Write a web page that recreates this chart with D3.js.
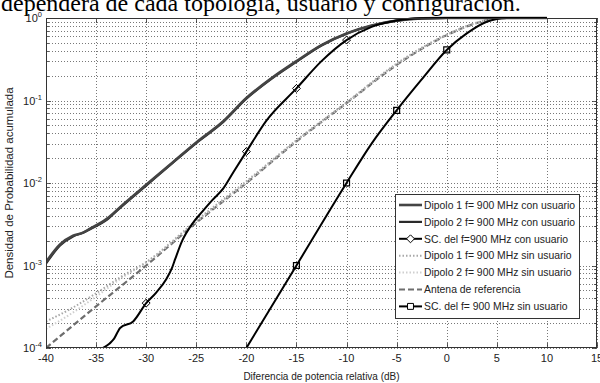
<!DOCTYPE html>
<html>
<head>
<meta charset="utf-8">
<script src="https://cdn.jsdelivr.net/npm/d3@7"></script>
<style>
  body { margin: 0; background: #fff; }
  svg { display: block; font-family: "Liberation Sans", Arial, sans-serif; }
</style>
</head>
<body>
<script>
// series data: [dB, probability]
var dipolo1Con = [[-40, 1.1e-3], [-38.6, 1.8e-3], [-37.3, 2.3e-3], [-36.3, 2.5e-3], [-35.6, 2.8e-3],
  [-33.9, 3.7e-3], [-32.6, 5.1e-3], [-30, 9.5e-3], [-27.3, 0.018], [-25, 0.031], [-22.3, 0.056],
  [-20, 0.107], [-17.5, 0.186], [-15, 0.30], [-12.5, 0.47], [-10, 0.65], [-7.5, 0.81], [-5, 0.93],
  [-2.5, 0.99], [0, 1], [10, 1]];
var dipolo2Con = [[-40, 1.05e-3], [-38.6, 1.75e-3], [-37.3, 2.25e-3], [-36.3, 2.5e-3], [-35.6, 2.75e-3],
  [-33.9, 3.6e-3], [-32.6, 5.0e-3], [-30, 9.3e-3], [-27.3, 0.0178], [-25, 0.0305], [-22.3, 0.055],
  [-20, 0.105], [-17.5, 0.183], [-15, 0.295], [-12.5, 0.465], [-10, 0.645], [-7.5, 0.805], [-5, 0.93],
  [-2.5, 0.99], [0, 1], [10, 1]];
var scCon = [[-34.3, 1.0e-4], [-33.2, 1.3e-4], [-32.6, 1.75e-4], [-31.3, 2.1e-4], [-30, 3.5e-4],
  [-29, 4.7e-4], [-28, 6.8e-4], [-27.4, 9.5e-4], [-27.1, 1.2e-3], [-26.4, 2.0e-3], [-25.4, 3.2e-3],
  [-24.4, 4.5e-3], [-23.4, 6.2e-3], [-22.3, 8.6e-3], [-21.3, 0.0135], [-20, 0.024], [-18, 0.057],
  [-15, 0.14], [-12.5, 0.30], [-10, 0.54], [-7.5, 0.78], [-5, 0.93], [-2.5, 0.99], [0, 1], [10, 1]];
var dipolo1Sin = [[-40, 2.1e-4], [-37.5, 3.0e-4], [-35, 4.6e-4], [-32.5, 7.3e-4], [-30, 1.1e-3],
  [-25, 3.5e-3], [-20, 0.0105], [-15, 0.033], [-10, 0.095], [-5, 0.28], [0, 0.63], [3, 0.88],
  [5, 0.99], [6, 1], [10, 1]];
var dipolo2Sin = [[-40, 1.7e-4], [-37.5, 2.6e-4], [-35, 4.2e-4], [-32.5, 7.0e-4], [-30, 1.08e-3],
  [-25, 3.4e-3], [-20, 0.0102], [-15, 0.0325], [-10, 0.094], [-5, 0.275], [0, 0.625], [3, 0.875],
  [5, 0.99], [6, 1], [10, 1]];
var antena = [[-40, 1e-4], [-35, 3.2e-4], [-30, 1e-3], [-25, 3.3e-3], [-20, 0.01], [-15, 0.032],
  [-10, 0.093], [-5, 0.27], [0, 0.62], [3, 0.87], [5, 0.99], [6, 1], [10, 1]];
var scSin = [[-20, 1e-4], [-15, 1e-3], [-10, 1e-2], [-7.5, 0.03], [-5, 0.076], [-2.5, 0.18],
  [0, 0.41], [2, 0.65], [4, 0.9], [5, 0.97], [6, 1], [10, 1]];

var scConMarks = [-30, -20, -15, -10];
var scSinMarks = [-15, -10, -5, 0];

var xTicks = [-40, -35, -30, -25, -20, -15, -10, -5, 0, 5, 10, 15];
var yExps = [0, -1, -2, -3, -4];
var legendLabels = [
  "Dipolo 1 f= 900 MHz con usuario",
  "Dipolo 2 f= 900 MHz con usuario",
  "SC. del f=900 MHz con usuario",
  "Dipolo 1 f= 900 MHz sin usuario",
  "Dipolo 2 f= 900 MHz sin usuario",
  "Antena de referencia",
  "SC. del f= 900 MHz sin usuario"
];

var W = 600, H = 383;
var pL = 46, pR = 597, pT = 18, pB = 348;

var x = d3.scaleLinear().domain([-40, 15]).range([pL, pR]);
var y = d3.scaleLog().domain([1e-4, 1]).range([pB, pT]);

var svg = d3.select("body").append("svg").attr("width", W).attr("height", H);

// caption of the page, cut at the top
svg.append("text")
  .attr("x", 1)
  .attr("y", 11)
  .style("font-family", "'Liberation Serif', 'Times New Roman', serif")
  .style("font-size", "24px")
  .attr("fill", "#000")
  .text("dependerá de cada topología, usuario y configuración.");

svg.append("defs").append("clipPath").attr("id", "plotclip")
  .append("rect").attr("x", pL).attr("y", pT - 2).attr("width", pR - pL).attr("height", pB - pT + 2);

// grid
var minorVals = [];
for (var e = -4; e < 0; e++) {
  for (var m = 1; m < 10; m++) minorVals.push(m * Math.pow(10, e));
}
minorVals.push(1);

var grid = svg.append("g");
grid.selectAll(".hg").data(minorVals).enter().append("line")
  .attr("x1", pL).attr("x2", pR)
  .attr("y1", function (d) { return Math.round(y(d)) + 0.5; })
  .attr("y2", function (d) { return Math.round(y(d)) + 0.5; })
  .attr("stroke", "#555").attr("stroke-width", 0.8).attr("stroke-dasharray", "1,2");
grid.selectAll(".vg").data(xTicks).enter().append("line")
  .attr("y1", pT).attr("y2", pB)
  .attr("x1", function (d) { return Math.round(x(d)) + 0.5; })
  .attr("x2", function (d) { return Math.round(x(d)) + 0.5; })
  .attr("stroke", "#555").attr("stroke-width", 0.8).attr("stroke-dasharray", "1,2");

// tick marks (inside, both sides)
var ticks = svg.append("g").attr("stroke", "#333").attr("stroke-width", 0.8);
xTicks.forEach(function (d) {
  var xx = Math.round(x(d)) + 0.5;
  ticks.append("line").attr("x1", xx).attr("x2", xx).attr("y1", pB).attr("y2", pB - 5);
  ticks.append("line").attr("x1", xx).attr("x2", xx).attr("y1", pT).attr("y2", pT + 5);
});
minorVals.forEach(function (d) {
  var yy = Math.round(y(d)) + 0.5;
  var major = Math.abs(Math.log10(d) - Math.round(Math.log10(d))) < 1e-9;
  var len = major ? 5 : 3;
  ticks.append("line").attr("x1", pL).attr("x2", pL + len).attr("y1", yy).attr("y2", yy);
  ticks.append("line").attr("x1", pR).attr("x2", pR - len).attr("y1", yy).attr("y2", yy);
});

// curves
var line = d3.line()
  .x(function (d) { return x(d[0]); })
  .y(function (d) { return y(d[1]); })
  .curve(d3.curveMonotoneX);

var series = [
  { data: antena, color: "#6e6e6e", width: 2.2, dash: "6,3" },
  { data: dipolo2Sin, color: "#cfcfcf", width: 2, dash: "1.5,2" },
  { data: dipolo1Sin, color: "#a8a8a8", width: 2, dash: "1.5,2" },
  { data: dipolo2Con, color: "#2a2a2a", width: 2.2, dash: null },
  { data: dipolo1Con, color: "#444", width: 2.6, dash: null },
  { data: scCon, color: "#000", width: 2, dash: null },
  { data: scSin, color: "#000", width: 2, dash: null }
];

var plot = svg.append("g").attr("clip-path", "url(#plotclip)");
plot.selectAll("path.curve").data(series).enter().append("path")
  .attr("class", "curve")
  .attr("d", function (d) { return line(d.data); })
  .attr("fill", "none")
  .attr("stroke", function (d) { return d.color; })
  .attr("stroke-width", function (d) { return d.width; })
  .attr("stroke-dasharray", function (d) { return d.dash; })
  .attr("stroke-linejoin", "round");

function pick(data, marks) {
  return data.filter(function (d) { return marks.indexOf(d[0]) >= 0; });
}

var diamond = d3.symbol().type(d3.symbolDiamond2).size(40);
var square = d3.symbol().type(d3.symbolSquare2).size(45);

plot.selectAll("path.dia").data(pick(scCon, scConMarks)).enter().append("path")
  .attr("class", "dia")
  .attr("d", diamond)
  .attr("transform", function (d) { return "translate(" + x(d[0]) + "," + y(d[1]) + ")"; })
  .attr("fill", "none").attr("stroke", "#000").attr("stroke-width", 1);
plot.selectAll("path.sq").data(pick(scSin, scSinMarks)).enter().append("path")
  .attr("class", "sq")
  .attr("d", square)
  .attr("transform", function (d) { return "translate(" + x(d[0]) + "," + y(d[1]) + ")"; })
  .attr("fill", "none").attr("stroke", "#000").attr("stroke-width", 1.2);

// axes box
svg.append("rect")
  .attr("x", pL + 0.5).attr("y", pT + 0.5)
  .attr("width", pR - pL - 1).attr("height", pB - pT - 1)
  .attr("fill", "none").attr("stroke", "#333").attr("stroke-width", 1);

// tick labels
svg.selectAll(".xl").data(xTicks).enter().append("text")
  .attr("x", function (d) { return x(d); })
  .attr("y", pB + 14)
  .attr("text-anchor", "middle")
  .style("font-size", "11px")
  .attr("fill", "#222")
  .text(function (d) { return d; });

var yl = svg.selectAll(".yl").data(yExps).enter().append("text")
  .attr("x", pL - 4)
  .attr("y", function (d) { return y(Math.pow(10, d)) + 4; })
  .attr("text-anchor", "end")
  .style("font-size", "11px")
  .attr("fill", "#222");
yl.append("tspan").text("10");
yl.append("tspan").attr("dy", -5).style("font-size", "7.5px").text(function (d) { return d; });

svg.append("text")
  .attr("x", (pL + pR) / 2)
  .attr("y", H - 3)
  .attr("text-anchor", "middle")
  .style("font-size", "10px")
  .attr("fill", "#222")
  .text("Diferencia de potencia relativa (dB)");

svg.append("text")
  .attr("transform", "translate(13," + (pT + pB) / 2 + ") rotate(-90)")
  .attr("text-anchor", "middle")
  .style("font-size", "11.5px")
  .attr("fill", "#222")
  .text("Densidad de Probabilidad acumulada");

// legend
var lgX = 395, lgY = 194, lgW = 184, lgH = 124, rowH = 16.9;
var lg = svg.append("g");
lg.append("rect")
  .attr("x", lgX + 0.5).attr("y", lgY + 0.5).attr("width", lgW).attr("height", lgH)
  .attr("fill", "#fff").attr("stroke", "#333").attr("stroke-width", 1);

var legendStyle = [series[4], series[3], series[5], series[2], series[1], series[0], series[6]];
var legendMark = [null, null, "dia", null, null, null, "sq"];

legendLabels.forEach(function (label, i) {
  var ry = lgY + 11 + i * rowH;
  var st = legendStyle[i];
  lg.append("line")
    .attr("x1", lgX + 4).attr("x2", lgX + 27)
    .attr("y1", ry).attr("y2", ry)
    .attr("stroke", st.color).attr("stroke-width", st.width)
    .attr("stroke-dasharray", st.dash);
  if (legendMark[i]) {
    lg.append("path")
      .attr("d", legendMark[i] === "dia" ? diamond : square)
      .attr("transform", "translate(" + (lgX + 15.5) + "," + ry + ")")
      .attr("fill", "#fff").attr("stroke", "#000").attr("stroke-width", 1);
  }
  lg.append("text")
    .attr("x", lgX + 29)
    .attr("y", ry + 3.7)
    .style("font-size", "10.4px")
    .attr("fill", "#222")
    .text(label);
});
</script>
</body>
</html>
